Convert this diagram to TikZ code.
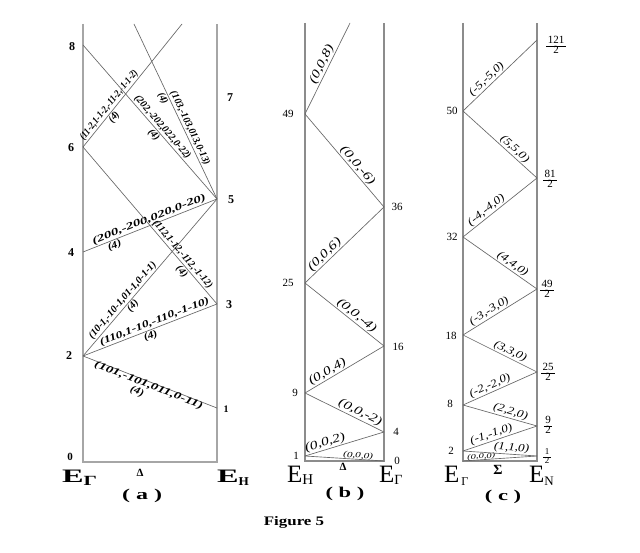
\documentclass[tikz,border=0pt]{standalone}
\usepackage{fontspec}
\setmainfont{Liberation Serif}
\newcommand{\sx}[2]{\scalebox{#1}[1]{#2}}
\newcommand{\fracv}[2]{{\renewcommand{\arraystretch}{0.8}\setlength{\tabcolsep}{1.5pt}\begin{tabular}{c}#1\\\hline #2\end{tabular}}}
\begin{document}
\begin{tikzpicture}[x=1pt,y=-1pt,
  frameA/.style={draw=black!35, line width=1.3pt},
  frameB/.style={draw=black!45, line width=2pt},
  ln/.style={draw=black!60, line width=0.65pt},
  laba/.style={sloped, inner sep=1pt, font=\fontsize{10}{11}\selectfont\bfseries\itshape},
  labb/.style={sloped, inner sep=1pt, font=\fontsize{12}{13}\selectfont\itshape},
  labc/.style={sloped, inner sep=1pt, font=\fontsize{11}{12}\selectfont\itshape},
  numa/.style={inner sep=0pt, font=\fontsize{12}{12}\selectfont\bfseries},
  numb/.style={inner sep=0pt, font=\fontsize{11}{11}\selectfont},
  fracn/.style={inner sep=0pt, font=\fontsize{11}{11}\selectfont},
  bigE/.style={inner sep=0pt, anchor=base west, font=\fontsize{25}{25}\selectfont},
  plab/.style={inner sep=0pt, font=\fontsize{15}{15}\selectfont\bfseries},
]
\useasboundingbox (0,0) rectangle (640,553);
\fill[white] (0,0) rectangle (640,553);

% ---------------- panel (a)
\coordinate (aTL) at (83,24); \coordinate (aBL) at (83,462);
\coordinate (aBR) at (217,462); \coordinate (aTR) at (217,24);
\coordinate (aL2) at (83,356); \coordinate (aL4) at (83,252);
\coordinate (aL6) at (83,147); \coordinate (aL8) at (83,45);
\coordinate (aR1) at (217,408); \coordinate (aR3) at (217,304);
\coordinate (aR5) at (217,199);
\coordinate (aT1) at (182,24); \coordinate (aT2) at (134,24);
\draw[frameA] (aTL) -- (aBL) -- (aBR) -- (aTR);

\draw[ln] (aL2) -- node[laba, below=-2pt, pos=0.5] (la1) {\sx{1.45}{(101,-101,011,0-11)}}
                   node[laba, below=8pt, pos=0.44] (la1b) {\sx{1.2}{(4)}} (aR1);
\draw[ln] (aL2) -- node[laba, above, pos=0.55] (la2) {\sx{1.35}{(110,1-10,-110,-1-10)}}
                   node[laba, below, pos=0.49] (la2b) {\sx{1.2}{(4)}} (aR3);
\draw[ln] (aL2) -- node[laba, above, pos=0.33] (la3) {\sx{1.05}{(10-1,-10-1,01-1,0-1-1)}}
                   node[laba, below, pos=0.34] (la3b) {\sx{1.05}{(4)}} (aR5);
\draw[ln] (aL4) -- node[laba, above, pos=0.51] (la4) {\sx{1.5}{(200,-200,020,0-20)}}
                   node[laba, below, pos=0.22] (la4b) {\sx{1.2}{(4)}} (aR5);
\draw[ln] (aL6) -- node[laba, above, pos=0.71] (la5) {\sx{1.0}{(112,1-12,-112,-1-12)}}
                   node[laba, below, pos=0.77] (la5b) {\sx{1.05}{(4)}} (aR3);
\draw[ln] (aL6) -- node[laba, above, pos=0.31] (la6) {\sx{0.87}{(11-2,1-1-2,-11-2,-1-1-2)}}
                   node[laba, below, pos=0.27] (la6b) {\sx{1.0}{(4)}} (aT1);
\draw[ln] (aL8) -- node[laba, above, pos=0.56] (la7) {\sx{1.0}{(202,-202,022,0-22)}}
                   node[laba, below, pos=0.56] (la7b) {\sx{1.05}{(4)}} (aR5);
\draw[ln] (aT2) -- node[laba, above, pos=0.61] (la8) {\sx{1.0}{(103,-103,013,0-13)}}
                   node[laba, below, pos=0.41] (la8b) {\sx{1.0}{(4)}} (aR5);

\node[numa] (a8) at (72,47) {8};
\node[numa] (a6) at (71,148) {6};
\node[numa] (a4) at (71,253) {4};
\node[numa] (a2) at (69,356) {2};
\node[numa, font=\fontsize{11}{11}\selectfont\bfseries] (a0) at (70,457) {0};
\node[numa] (a7) at (230,98) {7};
\node[numa] (a5) at (231,200) {5};
\node[numa] (a3) at (229,305) {3};
\node[numa, font=\fontsize{10}{10}\selectfont\bfseries] (a1) at (226,409) {1};

\node[inner sep=0pt, anchor=base west, font=\fontsize{19}{19}\selectfont\bfseries] (aEG) at (62,482)
  {\sx{1.7}{E}\raisebox{-3pt}{\fontsize{14}{14}\selectfont\sx{1.5}{Γ}}};
\node[inner sep=0pt, anchor=base west, font=\fontsize{19}{19}\selectfont\bfseries] (aEH) at (217,482)
  {\sx{1.7}{E}\raisebox{-3pt}{\fontsize{12}{12}\selectfont\sx{1.1}{H}}};
\node[inner sep=0pt, font=\fontsize{11}{11}\selectfont\bfseries] (aD) at (140,473) {Δ};
\node[plab] (alab) at (142,496) {\sx{1.6}{( a )}};

% ---------------- panel (b)
\coordinate (bTL) at (305,23); \coordinate (bBL) at (305,461);
\coordinate (bBR) at (384,461); \coordinate (bTR) at (384,23);
\coordinate (bL49) at (305,114); \coordinate (bL25) at (305,283);
\coordinate (bL9) at (305,393); \coordinate (bL1) at (305,456);
\coordinate (bR36) at (384,207); \coordinate (bR16) at (384,346);
\coordinate (bR4) at (384,432); \coordinate (bR0) at (384,461);
\coordinate (bT) at (350,23);
\draw[frameB] (bTL) -- (bBL) -- (bBR) -- (bTR);

\draw[ln] (bL1) -- node[sloped, above=-1pt, pos=0.67, inner sep=0.5pt, font=\fontsize{8}{8}\selectfont\itshape] (lb0) {\sx{1.4}{(0,0,0)}} (bR0);
\draw[ln] (bL1) -- node[labb, above, pos=0.28] (lb1) {\sx{1.3}{(0,0,2)}} (bR4);
\draw[ln] (bL9) -- node[labb, above, pos=0.66] (lb2) {\sx{1.3}{(0,0,-2)}} (bR4);
\draw[ln] (bL9) -- node[labb, above, pos=0.33] (lb3) {\sx{1.3}{(0,0,4)}} (bR16);
\draw[ln] (bL25) -- node[labb, above, pos=0.6] (lb4) {\sx{1.3}{(0,0,-4)}} (bR16);
\draw[ln] (bL25) -- node[labb, above, pos=0.31] (lb5) {\sx{1.3}{(0,0,6)}} (bR36);
\draw[ln] (bL49) -- node[labb, above, pos=0.6] (lb6) {\sx{1.3}{(0,0,-6)}} (bR36);
\draw[ln] (bL49) -- node[labb, above, pos=0.51] (lb7) {\sx{1.3}{(0,0,8)}} (bT);

\node[numb] (b49) at (288,114) {49};
\node[numb] (b25) at (288,283) {25};
\node[numb] (b9) at (295,393) {9};
\node[numb] (b1) at (296,456) {1};
\node[numb] (b36) at (397,207) {36};
\node[numb] (b16) at (398,347) {16};
\node[numb] (b4) at (396,432) {4};
\node[numb] (b0) at (397,461) {0};

\node[bigE] (bEH) at (287,482) {E\raisebox{-2pt}{\fontsize{15}{15}\selectfont H}};
\node[bigE] (bEG) at (379,482) {E\raisebox{-2pt}{\fontsize{14}{14}\selectfont Γ}};
\node[inner sep=0pt, font=\fontsize{11}{11}\selectfont\bfseries] (bD) at (343,467) {Δ};
\node[plab] (blab) at (345,494) {\sx{1.5}{( b )}};

% ---------------- panel (c)
\coordinate (cTL) at (463,23); \coordinate (cBL) at (463,461);
\coordinate (cBR) at (537,461); \coordinate (cTR) at (537,23);
\coordinate (cL50) at (463,111); \coordinate (cL32) at (463,237);
\coordinate (cL18) at (463,335); \coordinate (cL8) at (463,405);
\coordinate (cL2) at (463,451); \coordinate (cL0) at (463,461);
\coordinate (cR121) at (537,40); \coordinate (cR81) at (537,178);
\coordinate (cR49) at (537,289); \coordinate (cR25) at (537,372);
\coordinate (cR9) at (537,426); \coordinate (cR1) at (537,456);
\draw[frameB] (cTL) -- (cBL) -- (cBR) -- (cTR);

\draw[ln] (cL0) -- node[sloped, above=-1pt, pos=0.25, inner sep=0.5pt, font=\fontsize{7}{7}\selectfont\itshape] (lc0) {\sx{1.5}{(0,0,0)}} (cR1);
\draw[ln] (cL2) -- node[labc, above, pos=0.65] (lc1) {\sx{1.2}{(1,1,0)}} (cR1);
\draw[ln] (cL2) -- node[labc, above, pos=0.41] (lc2) {\sx{1.2}{(-1,-1,0)}} (cR9);
\draw[ln] (cL8) -- node[labc, above, pos=0.62] (lc3) {\sx{1.2}{(2,2,0)}} (cR9);
\draw[ln] (cL8) -- node[labc, above, pos=0.4] (lc4) {\sx{1.2}{(-2,-2,0)}} (cR25);
\draw[ln] (cL18) -- node[labc, above, pos=0.6] (lc5) {\sx{1.2}{(3,3,0)}} (cR25);
\draw[ln] (cL18) -- node[labc, above, pos=0.4] (lc6) {\sx{1.2}{(-3,-3,0)}} (cR49);
\draw[ln] (cL32) -- node[labc, above, pos=0.62] (lc7) {\sx{1.2}{(4,4,0)}} (cR49);
\draw[ln] (cL32) -- node[labc, above, pos=0.37] (lc8) {\sx{1.2}{(-4,-4,0)}} (cR81);
\draw[ln] (cL50) -- node[labc, above, pos=0.64] (lc9) {\sx{1.2}{(5,5,0)}} (cR81);
\draw[ln] (cL50) -- node[labc, above, pos=0.38] (lc10) {\sx{1.2}{(-5,-5,0)}} (cR121);

\node[numb] (c50) at (452,111) {50};
\node[numb] (c32) at (452,237) {32};
\node[numb] (c18) at (451,336) {18};
\node[numb] (c8) at (450,404) {8};
\node[numb] (c2) at (451,451) {2};
\node[fracn] (c121) at (556,46) {\fracv{121}{2}};
\node[fracn] (c81) at (550,180) {\fracv{81}{2}};
\node[fracn] (c49) at (547,290) {\fracv{49}{2}};
\node[fracn] (c25) at (548,373) {\fracv{25}{2}};
\node[fracn] (c9) at (548,426) {\fracv{9}{2}};
\node[fracn, font=\fontsize{9}{9}\selectfont] (c1) at (547,457) {\fracv{1}{2}};

\node[bigE] (cEG) at (444,482) {E\hspace{2pt}\raisebox{-3pt}{\fontsize{12}{12}\selectfont Γ}};
\node[bigE] (cEN) at (529,482) {E\raisebox{-3pt}{\fontsize{13}{13}\selectfont N}};
\node[inner sep=0pt, font=\fontsize{14}{14}\selectfont\bfseries] (cS) at (498,470) {Σ};
\node[plab] (clab) at (503,497) {\sx{1.5}{( c )}};

% ---------------- caption
\node[inner sep=0pt, font=\fontsize{13}{13}\selectfont\bfseries] (cap) at (294,522) {\sx{1.3}{Figure 5}};
\end{tikzpicture}
\end{document}
